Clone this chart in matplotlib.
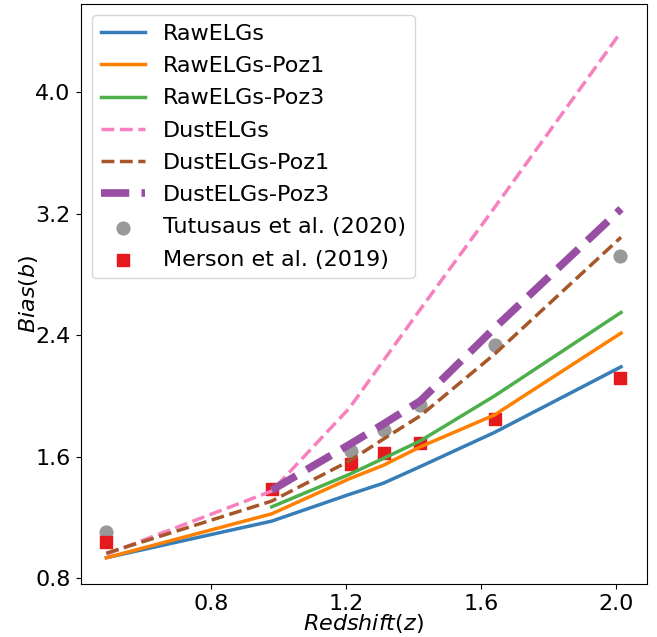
import matplotlib
matplotlib.use("Agg")
import matplotlib.pyplot as plt

z_all = [0.49, 0.98, 1.21, 1.31, 1.42, 1.64, 2.015]
z_hi = [0.98, 1.21, 1.31, 1.42, 1.64, 2.015]

raw = [0.935, 1.176, 1.352, 1.425, 1.535, 1.76, 2.192]
raw_poz1 = [0.935, 1.224, 1.455, 1.543, 1.665, 1.875, 2.414]
raw_poz3 = [1.27, 1.484, 1.588, 1.704, 2.0, 2.55]
dust = [0.958, 1.374, 1.92, 2.23, 2.57, 3.24, 4.397]
dust_poz1 = [0.965, 1.308, 1.572, 1.715, 1.869, 2.275, 3.045]
dust_poz3 = [1.38, 1.68, 1.814, 1.967, 2.447, 3.232]

tut_z = [0.49, 1.214, 1.313, 1.42, 1.643, 2.013]
tut_b = [1.105, 1.638, 1.776, 1.941, 2.337, 2.919]
mer_z = [0.49, 0.98, 1.214, 1.313, 1.42, 1.643, 2.013]
mer_b = [1.037, 1.385, 1.55, 1.622, 1.692, 1.851, 2.117]

xticks = [0.8, 1.2, 1.6, 2.0]
yticks = [0.8, 1.6, 2.4, 3.2, 4.0]

fig = plt.figure(figsize=(6.57, 6.37), dpi=100)
ax = fig.add_axes([80.5/657, 1-584/637, 566.5/657, 580/637])

ax.plot(z_all, raw, color='#377eb8', lw=2.5, label='RawELGs')
ax.plot(z_all, raw_poz1, color='#ff7f00', lw=2.5, label='RawELGs-Poz1')
ax.plot(z_hi, raw_poz3, color='#4daf4a', lw=2.5, label='RawELGs-Poz3')
ax.plot(z_all, dust, color='#f781bf', lw=2.5, ls='--', label='DustELGs')
ax.plot(z_all, dust_poz1, color='#a65628', lw=2.5, ls='--', label='DustELGs-Poz1')
ax.plot(z_hi, dust_poz3, color='#984ea3', lw=5.5, ls='--', label='DustELGs-Poz3')
ax.scatter(tut_z, tut_b, s=85, color='#999999', marker='o', label='Tutusaus et al. (2020)')
ax.scatter(mer_z, mer_b, s=85, color='#e41a1c', marker='s', label='Merson et al. (2019)')

ax.set_xlim(0.4133, 2.092)
ax.set_ylim(0.762, 4.581)
ax.set_xticks(xticks)
ax.set_yticks(yticks)
ax.set_xticklabels([f"{t:.1f}" for t in xticks])
ax.set_yticklabels([f"{t:.1f}" for t in yticks])
ax.tick_params(labelsize=16)
ax.set_xlabel('$Redshift(z)$', fontsize=16, labelpad=-1)
ax.set_ylabel('$Bias(b)$', fontsize=16, labelpad=-3)
ax.legend(loc='upper left', fontsize=16, labelspacing=0.55)

fig.savefig('out.png', dpi=100)
